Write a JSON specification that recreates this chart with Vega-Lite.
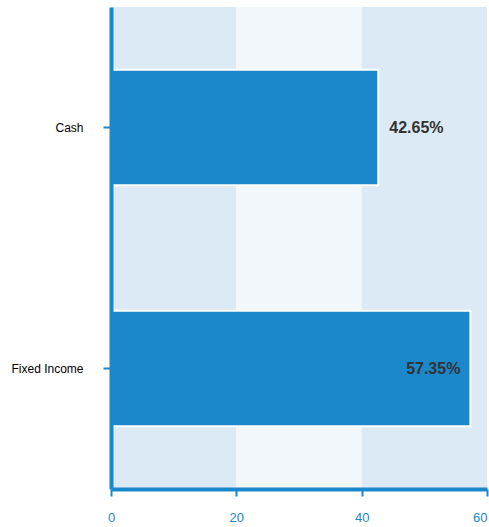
{
  "$schema": "https://vega.github.io/schema/vega-lite/v6.json",
  "width": 376,
  "height": 482,
  "autosize": "none",
  "padding": {"left": 111, "top": 7, "right": 2, "bottom": 38},
  "background": "white",
  "config": {
    "view": {"stroke": null},
    "font": "Liberation Sans",
    "axis": {"domainColor": "#1a88cb", "domainWidth": 4, "tickColor": "#1a88cb", "tickWidth": 2, "labelFont": "Liberation Sans", "title": null, "grid": false},
    "axisY": {"tickSize": 8, "labelColor": "#000000", "labelFontSize": 12, "labelPadding": 20},
    "axisX": {"tickSize": 7, "labelColor": "#1a88cb", "labelFontSize": 13, "labelPadding": 15}
  },
  "datasets": {
    "bars": [
      {"category": "Cash", "value": 42.65, "label": "42.65%"},
      {"category": "Fixed Income", "value": 57.35, "label": "57.35%"}
    ],
    "bands": [
      {"start": 0, "end": 20, "shade": "dark"},
      {"start": 20, "end": 40, "shade": "light"},
      {"start": 40, "end": 60, "shade": "dark"}
    ]
  },
  "layer": [
    {
      "data": {"name": "bands"},
      "mark": {"type": "rect"},
      "encoding": {
        "x": {"field": "start", "type": "quantitative", "scale": {"domain": [0, 60], "nice": false},
          "axis": {"zindex": 2, "values": [0, 20, 40, 60], "labelFlush": false, "labelAlign": {"condition": {"test": "datum.value == 60", "value": "right"}, "value": "center"}}},
        "x2": {"field": "end"},
        "color": {"field": "shade", "type": "nominal", "scale": {"domain": ["dark", "light"], "range": ["#dceaf5", "#f1f7fb"]}, "legend": null}
      }
    },
    {
      "data": {"name": "bars"},
      "mark": {"type": "bar", "color": "#1a88cb", "stroke": "white", "strokeWidth": 2},
      "encoding": {
        "y": {"field": "category", "type": "nominal", "sort": ["Cash", "Fixed Income"],
          "scale": {"paddingInner": 0.52, "paddingOuter": 0.26}, "axis": {"zindex": 2}},
        "x": {"field": "value", "type": "quantitative"}
      }
    },
    {
      "data": {"name": "bars"},
      "transform": [{"filter": "datum.value < 50"}],
      "mark": {"type": "text", "align": "left", "dx": 11, "fontSize": 16, "fontWeight": "bold", "color": "#333333", "font": "Liberation Sans"},
      "encoding": {
        "y": {"field": "category", "type": "nominal", "sort": ["Cash", "Fixed Income"]},
        "x": {"field": "value", "type": "quantitative"},
        "text": {"field": "label"}
      }
    },
    {
      "data": {"name": "bars"},
      "transform": [{"filter": "datum.value >= 50"}],
      "mark": {"type": "text", "align": "right", "dx": -10, "fontSize": 16, "fontWeight": "bold", "color": "#333333", "font": "Liberation Sans"},
      "encoding": {
        "y": {"field": "category", "type": "nominal", "sort": ["Cash", "Fixed Income"]},
        "x": {"field": "value", "type": "quantitative"},
        "text": {"field": "label"}
      }
    }
  ]
}
